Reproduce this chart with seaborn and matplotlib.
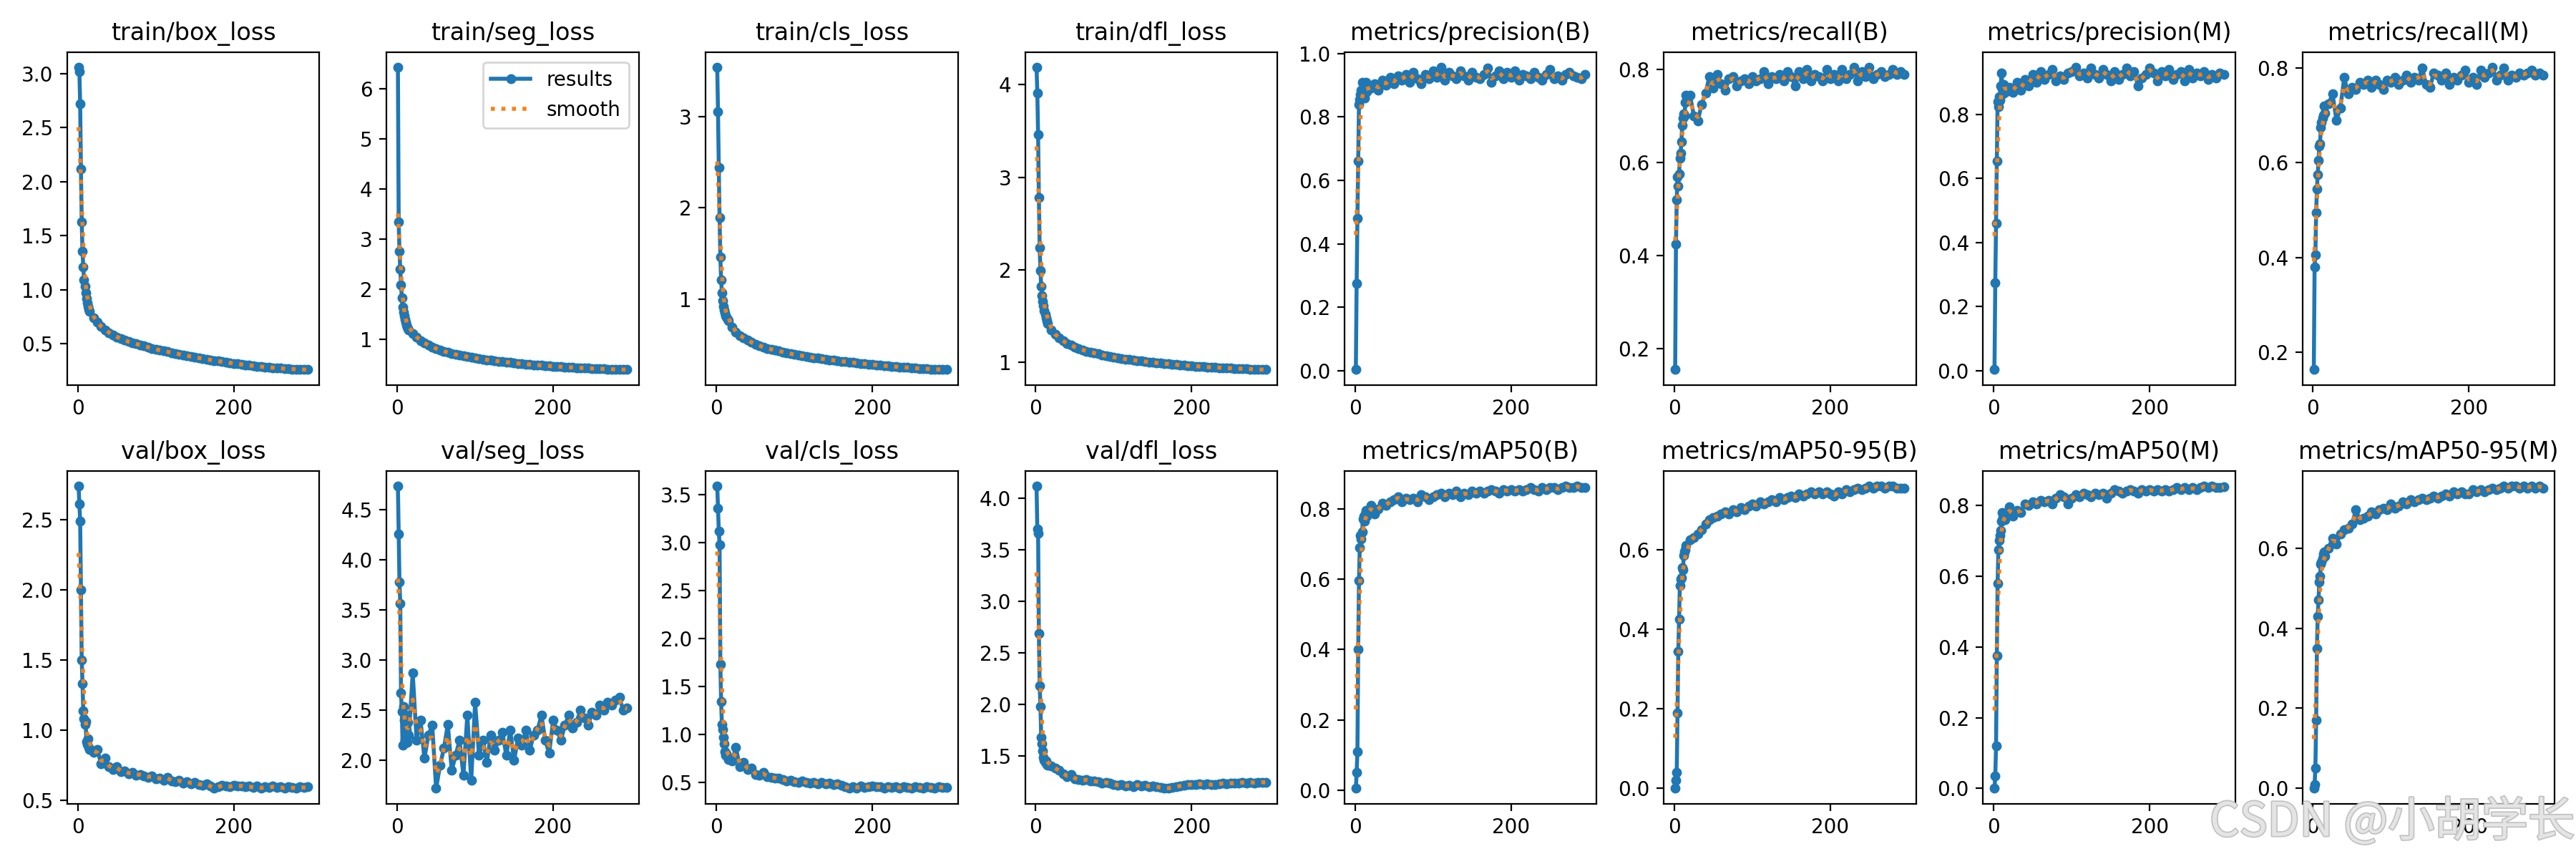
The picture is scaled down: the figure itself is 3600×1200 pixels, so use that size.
import numpy as np
import matplotlib
matplotlib.use("Agg")
import matplotlib.pyplot as plt
import matplotlib.patheffects as pe
from matplotlib.ticker import MaxNLocator
import seaborn as sns

# epochs sampled: every epoch at the start, then every 5th
epochs = list(range(1, 16)) + list(range(20, 296, 5))

titles = ["train/box_loss", "train/seg_loss", "train/cls_loss", "train/dfl_loss",
          "metrics/precision(B)", "metrics/recall(B)", "metrics/precision(M)", "metrics/recall(M)",
          "val/box_loss", "val/seg_loss", "val/cls_loss", "val/dfl_loss",
          "metrics/mAP50(B)", "metrics/mAP50-95(B)", "metrics/mAP50(M)", "metrics/mAP50-95(M)"]

train_box_loss = [3.06, 3.02, 2.72, 2.12, 1.63, 1.36, 1.21, 1.09, 1.03, 0.97, 0.92, 0.88, 0.85, 0.82, 0.80,
                  0.74, 0.70, 0.66, 0.63, 0.605, 0.585, 0.565, 0.55, 0.535, 0.52, 0.51, 0.50, 0.49, 0.48, 0.47, 0.46,
                  0.45, 0.443, 0.435, 0.428, 0.42, 0.413, 0.405, 0.398, 0.39, 0.384, 0.377,
                  0.371, 0.365, 0.359, 0.353, 0.347, 0.341, 0.336, 0.33, 0.325, 0.32,
                  0.315, 0.31, 0.306, 0.302, 0.298, 0.294, 0.29, 0.287, 0.284, 0.281,
                  0.278, 0.275, 0.273, 0.27, 0.268, 0.266, 0.264, 0.263, 0.262]

train_seg_loss = [6.43, 3.34, 2.76, 2.40, 2.09, 1.83, 1.65, 1.55, 1.47, 1.40, 1.34, 1.29, 1.25, 1.22, 1.19,
                  1.12, 1.05, 0.98, 0.93, 0.885, 0.85, 0.82, 0.79, 0.765, 0.74, 0.72, 0.70, 0.685, 0.67, 0.655, 0.64,
                  0.628, 0.616, 0.605, 0.595, 0.585, 0.575, 0.566, 0.557, 0.548, 0.54, 0.532,
                  0.524, 0.516, 0.509, 0.502, 0.495, 0.489, 0.483, 0.477, 0.471, 0.466,
                  0.461, 0.456, 0.451, 0.446, 0.442, 0.438, 0.434, 0.43, 0.426, 0.422,
                  0.419, 0.416, 0.413, 0.41, 0.407, 0.404, 0.402, 0.40, 0.398]

train_cls_loss = [3.54, 3.05, 2.44, 1.89, 1.46, 1.21, 1.07, 0.98, 0.92, 0.88, 0.85, 0.82, 0.80, 0.78, 0.76,
                  0.69, 0.64, 0.60, 0.575, 0.55, 0.525, 0.505, 0.49, 0.475, 0.46, 0.45, 0.44, 0.43, 0.42, 0.41, 0.40,
                  0.392, 0.385, 0.378, 0.371, 0.364, 0.358, 0.352, 0.346, 0.34, 0.334, 0.329,
                  0.324, 0.319, 0.314, 0.309, 0.304, 0.299, 0.295, 0.29, 0.286, 0.282,
                  0.278, 0.274, 0.27, 0.266, 0.262, 0.259, 0.255, 0.252, 0.249, 0.246,
                  0.243, 0.24, 0.238, 0.235, 0.233, 0.231, 0.229, 0.227, 0.226]

train_dfl_loss = [4.19, 3.91, 3.46, 2.78, 2.24, 1.99, 1.82, 1.72, 1.66, 1.61, 1.56, 1.52, 1.48, 1.45, 1.42,
                  1.35, 1.30, 1.26, 1.23, 1.205, 1.185, 1.165, 1.15, 1.135, 1.12, 1.11, 1.10, 1.09, 1.08, 1.07, 1.062,
                  1.055, 1.048, 1.041, 1.035, 1.029, 1.023, 1.018, 1.013, 1.008, 1.003, 0.998,
                  0.994, 0.99, 0.986, 0.982, 0.978, 0.974, 0.97, 0.967, 0.964, 0.961,
                  0.958, 0.955, 0.952, 0.949, 0.946, 0.944, 0.942, 0.94, 0.938, 0.936,
                  0.934, 0.932, 0.93, 0.928, 0.926, 0.924, 0.922, 0.921, 0.92]

precision_b = [0.003, 0.275, 0.48, 0.66, 0.84, 0.855, 0.87, 0.885, 0.91, 0.875, 0.905, 0.86, 0.89, 0.91, 0.88,
               0.89, 0.905, 0.885, 0.915, 0.90, 0.925, 0.905, 0.93, 0.915, 0.935, 0.91, 0.94, 0.92, 0.905, 0.935, 0.92,
               0.945, 0.925, 0.957, 0.915, 0.94, 0.93, 0.92, 0.945, 0.93, 0.915, 0.94,
               0.925, 0.92, 0.935, 0.955, 0.91, 0.93, 0.945, 0.92, 0.94, 0.925,
               0.945, 0.915, 0.935, 0.93, 0.92, 0.94, 0.925, 0.915, 0.935, 0.95,
               0.92, 0.93, 0.915, 0.935, 0.94, 0.93, 0.925, 0.92, 0.935]

recall_b = [0.155, 0.425, 0.52, 0.57, 0.55, 0.575, 0.61, 0.62, 0.645, 0.68, 0.695, 0.705, 0.70, 0.73, 0.745,
            0.745, 0.70, 0.69, 0.725, 0.75, 0.785, 0.76, 0.79, 0.77, 0.755, 0.78, 0.785, 0.765, 0.775, 0.78, 0.77,
            0.785, 0.775, 0.78, 0.795, 0.77, 0.785, 0.78, 0.79, 0.775, 0.795, 0.785,
            0.765, 0.795, 0.78, 0.80, 0.775, 0.79, 0.785, 0.775, 0.80, 0.78,
            0.79, 0.775, 0.80, 0.78, 0.79, 0.805, 0.775, 0.795, 0.785, 0.805,
            0.78, 0.79, 0.795, 0.785, 0.79, 0.80, 0.79, 0.795, 0.79]

precision_m = [0.003, 0.275, 0.46, 0.655, 0.84, 0.825, 0.855, 0.845, 0.89, 0.93, 0.88, 0.865, 0.895, 0.87, 0.88,
               0.885, 0.87, 0.90, 0.875, 0.91, 0.89, 0.925, 0.90, 0.935, 0.91, 0.925, 0.94, 0.905, 0.92, 0.91, 0.93,
               0.935, 0.948, 0.92, 0.93, 0.915, 0.945, 0.925, 0.915, 0.94, 0.925, 0.905,
               0.935, 0.91, 0.925, 0.945, 0.92, 0.935, 0.89, 0.915, 0.925, 0.945,
               0.93, 0.905, 0.935, 0.92, 0.94, 0.91, 0.925, 0.935, 0.905, 0.94,
               0.915, 0.93, 0.92, 0.935, 0.91, 0.925, 0.915, 0.93, 0.925]

recall_m = [0.163, 0.38, 0.405, 0.495, 0.545, 0.575, 0.605, 0.635, 0.64, 0.675, 0.685, 0.695, 0.70, 0.72, 0.705,
            0.725, 0.745, 0.69, 0.715, 0.78, 0.745, 0.76, 0.755, 0.77, 0.765, 0.775, 0.76, 0.775, 0.765, 0.755, 0.775,
            0.77, 0.78, 0.765, 0.775, 0.785, 0.77, 0.78, 0.775, 0.80, 0.765, 0.76,
            0.79, 0.785, 0.775, 0.79, 0.765, 0.78, 0.775, 0.785, 0.795, 0.77,
            0.78, 0.765, 0.795, 0.78, 0.79, 0.802, 0.775, 0.785, 0.80, 0.775,
            0.785, 0.78, 0.79, 0.785, 0.79, 0.795, 0.785, 0.79, 0.785]

val_box_loss = [2.74, 2.61, 2.49, 2.00, 1.50, 1.33, 1.14, 1.08, 1.04, 1.06, 0.92, 0.90, 0.94, 0.88, 0.86,
                0.84, 0.86, 0.76, 0.80, 0.74, 0.72, 0.74, 0.705, 0.71, 0.69, 0.70, 0.68, 0.685, 0.675, 0.665, 0.675,
                0.655, 0.66, 0.645, 0.665, 0.64, 0.635, 0.645, 0.625, 0.635, 0.62, 0.63,
                0.615, 0.61, 0.62, 0.60, 0.585, 0.595, 0.61, 0.60, 0.595, 0.61,
                0.60, 0.605, 0.595, 0.60, 0.59, 0.60, 0.585, 0.595, 0.59, 0.60,
                0.59, 0.595, 0.585, 0.595, 0.59, 0.585, 0.595, 0.59, 0.595]

val_seg_loss = [4.74, 4.26, 3.78, 3.57, 2.67, 2.49, 2.15, 2.54, 2.40, 2.20, 2.45, 2.30, 2.18, 2.38, 2.25,
                2.87, 2.20, 2.40, 2.02, 2.25, 2.35, 1.72, 1.95, 2.12, 2.36, 1.90, 2.05, 2.20, 1.85, 2.45, 1.80,
                2.58, 2.05, 2.20, 1.98, 2.25, 2.10, 2.20, 2.28, 2.05, 2.30, 2.00,
                2.22, 2.15, 2.30, 2.10, 2.25, 2.30, 2.45, 2.20, 2.07, 2.40,
                2.30, 2.20, 2.35, 2.45, 2.32, 2.38, 2.50, 2.42, 2.35, 2.48,
                2.45, 2.55, 2.50, 2.58, 2.55, 2.60, 2.63, 2.50, 2.52]

val_cls_loss = [3.59, 3.36, 3.12, 2.98, 1.73, 1.34, 1.10, 1.05, 0.97, 0.90, 0.82, 0.78, 0.80, 0.76, 0.74,
                0.72, 0.86, 0.66, 0.71, 0.63, 0.65, 0.58, 0.57, 0.60, 0.56, 0.55, 0.545, 0.54, 0.53, 0.515, 0.52,
                0.505, 0.50, 0.51, 0.495, 0.49, 0.50, 0.485, 0.495, 0.48, 0.49, 0.475,
                0.48, 0.465, 0.45, 0.435, 0.455, 0.44, 0.46, 0.445, 0.455, 0.46,
                0.45, 0.455, 0.44, 0.45, 0.445, 0.455, 0.44, 0.45, 0.445, 0.44,
                0.45, 0.445, 0.44, 0.45, 0.445, 0.44, 0.45, 0.445, 0.445]

val_dfl_loss = [4.12, 3.70, 3.66, 2.69, 2.18, 1.98, 1.68, 1.62, 1.55, 1.49, 1.46, 1.44, 1.45, 1.42, 1.41,
                1.40, 1.38, 1.36, 1.33, 1.30, 1.32, 1.28, 1.27, 1.265, 1.27, 1.26, 1.255, 1.25, 1.24, 1.245, 1.235,
                1.225, 1.215, 1.22, 1.21, 1.215, 1.205, 1.22, 1.21, 1.215, 1.205, 1.21,
                1.20, 1.195, 1.19, 1.185, 1.195, 1.20, 1.21, 1.215, 1.22, 1.225,
                1.22, 1.23, 1.225, 1.23, 1.22, 1.225, 1.23, 1.235, 1.23, 1.235,
                1.24, 1.235, 1.245, 1.24, 1.245, 1.24, 1.245, 1.245, 1.245]

map50_b = [0.005, 0.05, 0.11, 0.40, 0.595, 0.69, 0.725, 0.715, 0.735, 0.77, 0.78, 0.765, 0.785, 0.795, 0.78,
           0.81, 0.785, 0.80, 0.815, 0.81, 0.82, 0.825, 0.835, 0.82, 0.83, 0.825, 0.83, 0.82, 0.84, 0.835, 0.825,
           0.835, 0.84, 0.845, 0.835, 0.845, 0.84, 0.85, 0.835, 0.845, 0.84, 0.85,
           0.845, 0.85, 0.845, 0.85, 0.855, 0.85, 0.845, 0.855, 0.85, 0.855,
           0.85, 0.855, 0.85, 0.855, 0.86, 0.855, 0.85, 0.86, 0.855, 0.86,
           0.86, 0.855, 0.86, 0.865, 0.86, 0.86, 0.865, 0.86, 0.86]

map50_95_b = [0.0, 0.02, 0.04, 0.19, 0.345, 0.425, 0.51, 0.525, 0.53, 0.555, 0.55, 0.585, 0.595, 0.60, 0.61,
              0.625, 0.63, 0.64, 0.65, 0.665, 0.675, 0.68, 0.685, 0.69, 0.695, 0.69, 0.70, 0.695, 0.705, 0.70, 0.71,
              0.715, 0.71, 0.72, 0.715, 0.72, 0.725, 0.72, 0.73, 0.725, 0.73, 0.735,
              0.73, 0.74, 0.735, 0.74, 0.745, 0.74, 0.745, 0.74, 0.745, 0.74,
              0.735, 0.745, 0.74, 0.75, 0.745, 0.75, 0.755, 0.75, 0.755, 0.76,
              0.755, 0.76, 0.76, 0.755, 0.76, 0.76, 0.755, 0.755, 0.755]

map50_m = [0.0, 0.035, 0.12, 0.375, 0.58, 0.675, 0.70, 0.715, 0.73, 0.755, 0.78, 0.765, 0.775, 0.76, 0.775,
           0.795, 0.77, 0.785, 0.78, 0.805, 0.80, 0.81, 0.805, 0.815, 0.81, 0.815, 0.805, 0.82, 0.83, 0.825, 0.805,
           0.82, 0.83, 0.825, 0.835, 0.83, 0.825, 0.835, 0.83, 0.835, 0.82, 0.835,
           0.845, 0.84, 0.835, 0.84, 0.845, 0.84, 0.835, 0.845, 0.84, 0.845,
           0.84, 0.845, 0.84, 0.845, 0.84, 0.845, 0.85, 0.845, 0.85, 0.845,
           0.85, 0.845, 0.85, 0.855, 0.85, 0.855, 0.85, 0.85, 0.852]

map50_95_m = [0.0, 0.01, 0.05, 0.17, 0.35, 0.43, 0.47, 0.515, 0.53, 0.56, 0.565, 0.575, 0.585, 0.59, 0.58,
              0.60, 0.625, 0.61, 0.635, 0.645, 0.65, 0.66, 0.695, 0.67, 0.675, 0.68, 0.69, 0.685, 0.695, 0.70, 0.695,
              0.71, 0.70, 0.705, 0.715, 0.71, 0.72, 0.715, 0.72, 0.725, 0.72, 0.725,
              0.73, 0.725, 0.73, 0.735, 0.73, 0.74, 0.735, 0.74, 0.735, 0.735,
              0.745, 0.74, 0.745, 0.74, 0.745, 0.75, 0.745, 0.75, 0.755, 0.75,
              0.755, 0.755, 0.75, 0.755, 0.75, 0.755, 0.75, 0.755, 0.75]

series = [train_box_loss, train_seg_loss, train_cls_loss, train_dfl_loss,
          precision_b, recall_b, precision_m, recall_m,
          val_box_loss, val_seg_loss, val_cls_loss, val_dfl_loss,
          map50_b, map50_95_b, map50_m, map50_95_m]

blue = "#1f77b4"
orange = "#ff7f0e"


def smooth(x, y, sigma=3.0):
    # gaussian smoothing over epoch distance
    x = np.asarray(x, dtype=float)
    y = np.asarray(y, dtype=float)
    w = np.exp(-0.5 * ((x[:, None] - x[None, :]) / sigma) ** 2)
    return (w @ y) / w.sum(axis=1)


fig, axes = plt.subplots(2, 8, figsize=(18, 6), tight_layout=True)
for ax, title, vals in zip(axes.ravel(), titles, series):
    assert len(vals) == len(epochs), title
    sns.lineplot(x=epochs, y=vals, ax=ax, marker=".", markersize=8, linewidth=2,
                 color=blue, markeredgecolor=blue, markeredgewidth=1,
                 label="results", legend=False)
    sns.lineplot(x=epochs, y=smooth(epochs, vals), ax=ax, linestyle=":", linewidth=2,
                 color=orange, label="smooth", legend=False)
    ax.set_title(title, fontsize=12)
    ax.set_xlabel("")
    ax.set_ylabel("")
    ax.xaxis.set_major_locator(MaxNLocator(nbins=3, steps=[1, 2, 2.5, 5, 10]))
    ax.yaxis.set_major_locator(MaxNLocator(nbins=7, steps=[1, 2, 2.5, 5, 10]))
axes[0, 1].legend()

fig.text(0.9995, 0.042, "CSDN @小胡学长", ha="right", va="center", fontsize=23.5,
         family=["Noto Sans CJK SC", "DejaVu Sans"], color="#e4e4e4",
         path_effects=[pe.withStroke(linewidth=1.2, foreground="#c0c0c0")])

plt.savefig("out.png", dpi=200)
plt.close()
